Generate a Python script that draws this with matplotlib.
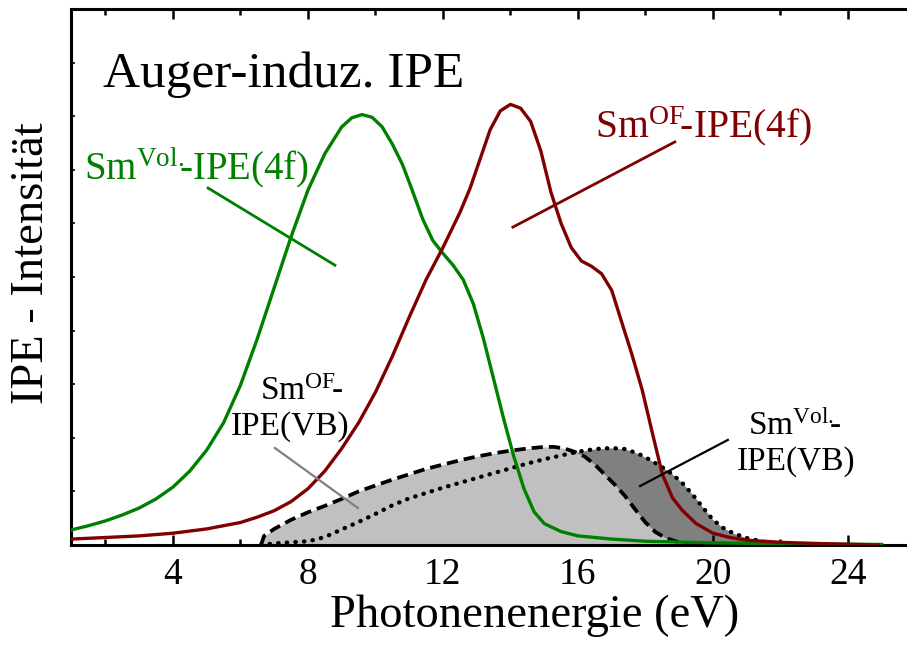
#! /usr/bin/env python
"""Auger-induced IPE spectra of Sm (volume and surface, 4f and VB parts)."""

import matplotlib
matplotlib.use('Agg')
import matplotlib.pyplot as plt
from matplotlib.ticker import MultipleLocator, NullFormatter

# Sm^Vol. IPE(4f), green
vol4f_x = [0.98, 1.5, 2.0, 2.5, 3.0, 3.5, 4.0, 4.5, 5.0, 5.5, 6.0, 6.5,
           7.0, 7.5, 8.0, 8.5, 9.0, 9.3, 9.6, 9.9, 10.2, 10.5, 10.8,
           11.1, 11.4, 11.7, 12.0, 12.3, 12.6, 12.9, 13.2, 13.5, 13.8,
           14.1, 14.4, 14.7, 15.0, 15.5, 16.0, 17.0, 18.0, 20.0, 22.6,
           25.0]
vol4f_y = [0.28, 0.36, 0.45, 0.56, 0.69, 0.86, 1.08, 1.38, 1.77, 2.28,
           2.98, 3.85, 4.80, 5.75, 6.62, 7.30, 7.80, 7.97, 8.03, 7.98,
           7.80, 7.48, 7.10, 6.60, 6.08, 5.68, 5.44, 5.22, 4.95, 4.50,
           3.85, 3.10, 2.35, 1.65, 1.05, 0.62, 0.40, 0.25, 0.17, 0.11,
           0.07, 0.04, 0.02, 0.01]

# Sm^OF IPE(4f), dark red
of4f_x = [0.98, 2.0, 3.0, 4.0, 5.0, 6.0, 6.5, 7.0, 7.5, 8.0, 8.5, 9.0,
          9.5, 10.0, 10.5, 11.0, 11.5, 12.0, 12.5, 12.8, 13.1, 13.4,
          13.7, 14.0, 14.3, 14.6, 14.9, 15.2, 15.5, 15.8, 16.1, 16.4,
          16.7, 17.0, 17.3, 17.6, 17.9, 18.2, 18.5, 18.8, 19.1, 19.5,
          20.0, 20.5, 21.0, 22.0, 23.0, 24.9]
of4f_y = [0.11, 0.14, 0.17, 0.22, 0.30, 0.42, 0.52, 0.64, 0.81, 1.05,
          1.38, 1.80, 2.28, 2.85, 3.52, 4.25, 4.95, 5.55, 6.20, 6.65,
          7.20, 7.75, 8.10, 8.22, 8.15, 7.90, 7.35, 6.58, 6.00, 5.55,
          5.30, 5.20, 5.06, 4.75, 4.15, 3.55, 2.90, 2.10, 1.32, 0.88,
          0.64, 0.40, 0.22, 0.14, 0.09, 0.05, 0.03, 0.0]

# Sm^OF IPE(VB), dashed
ofvb_x = [6.61, 6.7, 7.0, 7.5, 8.0, 8.5, 9.0, 9.5, 10.0, 10.5, 11.0, 11.5,
          12.0, 12.5, 13.0, 13.5, 14.0, 14.5, 15.0, 15.3, 15.6, 15.9,
          16.2, 16.5, 16.8, 17.1, 17.4, 17.7, 18.0, 18.3, 18.6, 19.0,
          19.5]
ofvb_y = [0.0, 0.17, 0.30, 0.47, 0.61, 0.73, 0.86, 1.00, 1.11, 1.22,
          1.32, 1.42, 1.50, 1.58, 1.65, 1.71, 1.76, 1.80, 1.83, 1.83,
          1.80, 1.74, 1.65, 1.50, 1.31, 1.12, 0.91, 0.66, 0.42, 0.24,
          0.13, 0.05, 0.0]

# Sm^Vol. IPE(VB), dotted
volvb_x = [6.61, 7.0, 7.5, 8.0, 8.3, 8.65, 9.0, 9.5, 10.0, 10.5, 11.0,
           11.5, 12.0, 12.5, 13.0, 13.5, 14.0, 14.5, 15.0, 15.5, 16.0,
           16.5, 17.0, 17.4, 17.8, 18.13, 18.5, 18.8, 19.1, 19.4, 19.7,
           20.0, 20.3, 20.6, 21.0, 21.5, 22.0, 22.5]
volvb_y = [0.0, 0.03, 0.05, 0.07, 0.11, 0.19, 0.29, 0.43, 0.58, 0.74,
           0.87, 0.97, 1.07, 1.16, 1.25, 1.34, 1.43, 1.52, 1.60, 1.67,
           1.74, 1.79, 1.81, 1.79, 1.70, 1.59, 1.45, 1.32, 1.15, 0.94,
           0.70, 0.47, 0.32, 0.22, 0.13, 0.06, 0.02, 0.0]

green = '#008000'
red = '#800000'

plt.rcParams['font.family'] = 'Liberation Serif'
plt.rcParams['mathtext.fontset'] = 'custom'
plt.rcParams['mathtext.rm'] = 'Liberation Serif'
plt.rcParams['mathtext.it'] = 'Liberation Serif:italic'

fig = plt.figure(figsize=(9.07, 6.46), dpi=100)
# right edge of the frame lies outside the picture
ax = fig.add_axes([71 / 907., 101 / 646., 844.5 / 907., 536 / 646.])

ax.fill_between(volvb_x, volvb_y, color='#808080', lw=0, zorder=1)
ax.fill_between(ofvb_x, ofvb_y, color='#c0c0c0', lw=0, zorder=2)
ax.plot(ofvb_x, ofvb_y, color='k', lw=2.7, ls=(0, (3.0, 1.6)), zorder=3)
ax.plot(volvb_x, volvb_y, color='k', lw=3.1, ls=(0, (0.1, 1.9)),
        dash_capstyle='round', zorder=3)
ax.plot(vol4f_x, vol4f_y, color=green, lw=2.4, zorder=4,
        solid_joinstyle='round')
ax.plot(of4f_x, of4f_y, color=red, lw=2.4, zorder=4,
        solid_joinstyle='round')

ax.set_xlim(0.98, 26)
ax.set_ylim(0, 10)

ax.xaxis.set_major_locator(MultipleLocator(4))
ax.xaxis.set_minor_locator(MultipleLocator(2))
ax.yaxis.set_major_locator(MultipleLocator(1))
ax.yaxis.set_major_formatter(NullFormatter())
ax.tick_params(axis='x', which='both', direction='in', top=True,
               width=1.8, labelsize=27, pad=9)
ax.tick_params(axis='x', which='major', length=7)
ax.tick_params(axis='x', which='minor', length=4)
ax.tick_params(axis='y', which='major', direction='in', length=3, width=1.2)
for s in ax.spines.values():
    s.set_linewidth(2.2)

ax.set_xlabel('Photonenenergie (eV)', fontsize=33.5)
ax.xaxis.set_label_coords(0.549, -0.093)
ax.set_ylabel('IPE - Intensität', fontsize=33.5)
ax.yaxis.set_label_coords(-0.021, 0.526)

ax.text(1.93, 8.54, 'Auger-induz. IPE', fontsize=37, va='baseline')

ax.text(1.36, 6.81, r'Sm$^{\mathrm{Vol.}}\!\!$-IPE(4f)', color=green,
        fontsize=28, va='baseline')
ax.plot([5.04, 8.8], [6.66, 5.22], color=green, lw=2, zorder=5)

ax.text(16.5, 7.61, r'Sm$^{\mathrm{OF}}\!$-IPE(4f)', color=red,
        fontsize=28.5, va='baseline')
ax.plot([18.87, 14.07], [7.52, 5.93], color=red, lw=2, zorder=5)

ax.text(7.82, 2.71, r'Sm$^{\mathrm{OF}}\!$-', fontsize=24, ha='center',
        va='baseline')
ax.text(7.47, 2.05, 'IPE(VB)', fontsize=24, ha='center', va='baseline')
ax.plot([7.02, 9.48], [1.81, 0.69], color='#808080', lw=1.6, zorder=5)

ax.text(22.43, 2.05, r'Sm$^{\mathrm{Vol.}}\!\!$-', fontsize=24, ha='center',
        va='baseline')
ax.text(22.46, 1.40, 'IPE(VB)', fontsize=24, ha='center', va='baseline')
ax.plot([20.44, 17.84], [1.96, 1.10], color='k', lw=1.6, zorder=5)

fig.savefig('out.png', dpi=100)
